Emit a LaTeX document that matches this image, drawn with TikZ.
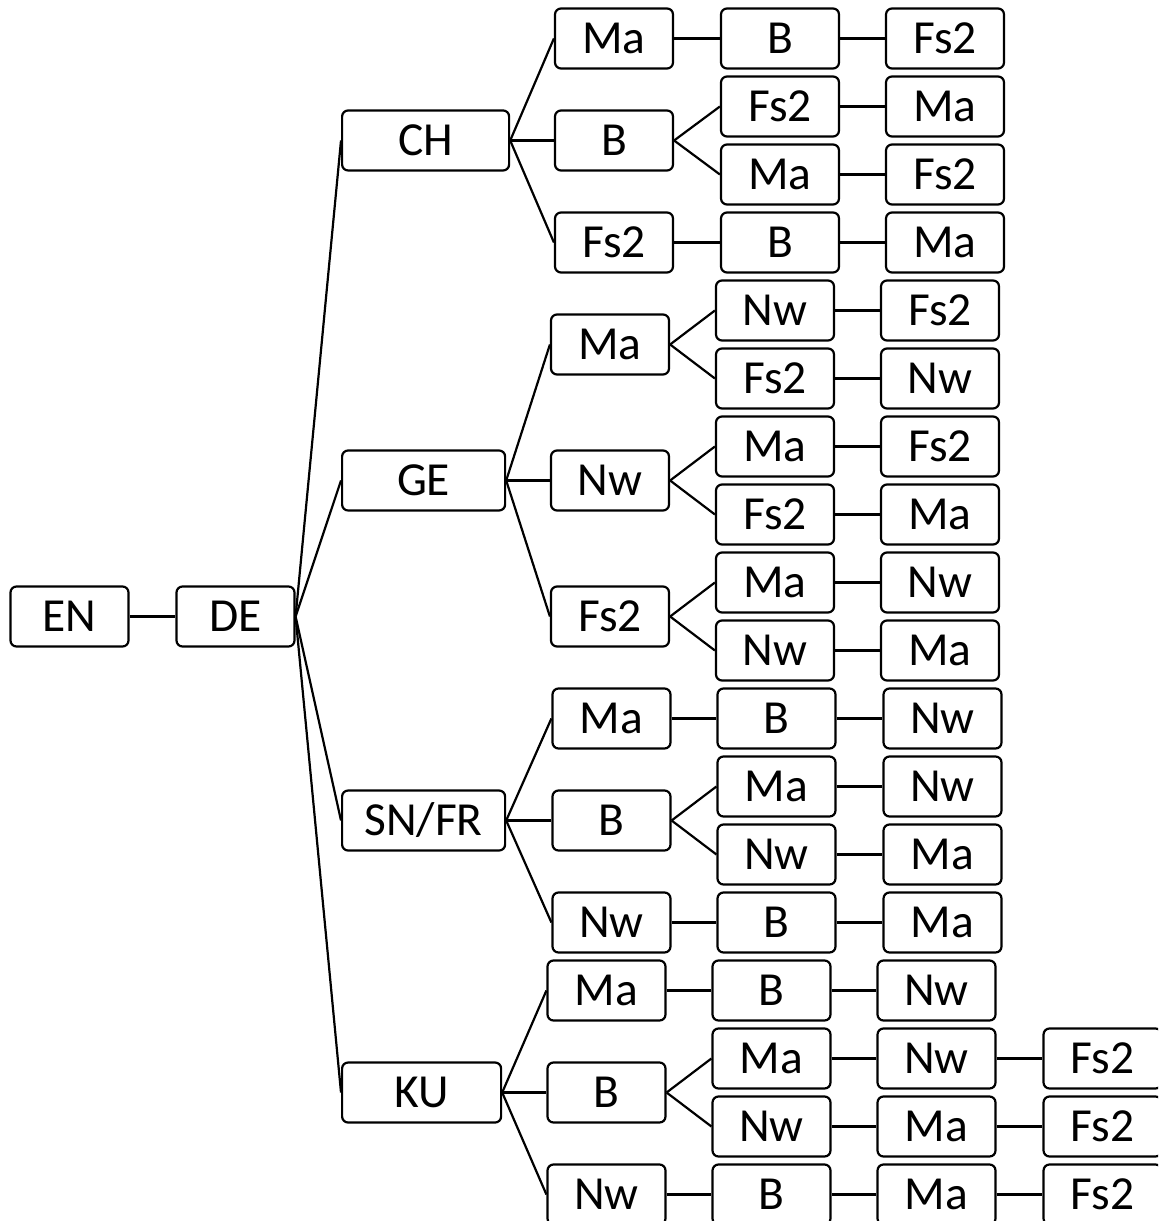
\documentclass[tikz,border=0pt]{standalone}
\usepackage{fontspec}
\setmainfont{Carlito}

\tikzset{
  box/.style={draw, line width=0.22mm, rounded corners=0.6mm, minimum width=11.8mm, minimum height=6mm, inner sep=0pt, font=\fontsize{13.5}{16}\selectfont},
  wide/.style={box, minimum width=16.3mm, anchor=west},
  link/.style={line width=0.22mm}
}

\begin{document}
\begin{tikzpicture}[x=0.1mm, y=-0.1mm]
\clip (0,0) rectangle (1158,1221);

% the root and its one child
\node[box] (en) at (69.5,616.5) {EN};
\node[box] (de) at (235.5,616.5) {DE};

% the second level
\node[wide, minimum width=16.7mm] (ch) at (341,140.5) {CH};
\node[wide] (ge) at (341,480.5) {GE};
\node[wide] (sn) at (341,820.5) {SN/FR};
\node[wide, minimum width=15.9mm] (ku) at (341,1092.5) {KU};

% the CH branch
\node[box] (ch-ma) at (614,38.5) {Ma};
\node[box] (ch-ma-b) at (780,38.5) {B};
\node[box] (ch-ma-b-fs) at (945,38.5) {Fs2};
\node[box] (ch-b) at (614,140.5) {B};
\node[box] (ch-b-fs) at (780,106.5) {Fs2};
\node[box] (ch-b-fs-ma) at (945,106.5) {Ma};
\node[box] (ch-b-ma) at (780,174.5) {Ma};
\node[box] (ch-b-ma-fs) at (945,174.5) {Fs2};
\node[box] (ch-fs) at (614,242.5) {Fs2};
\node[box] (ch-fs-b) at (780,242.5) {B};
\node[box] (ch-fs-b-ma) at (945,242.5) {Ma};

% the GE branch
\node[box] (ge-ma) at (610,344.5) {Ma};
\node[box] (ge-ma-nw) at (775,310.5) {Nw};
\node[box] (ge-ma-nw-fs) at (940,310.5) {Fs2};
\node[box] (ge-ma-fs) at (775,378.5) {Fs2};
\node[box] (ge-ma-fs-nw) at (940,378.5) {Nw};
\node[box] (ge-nw) at (610,480.5) {Nw};
\node[box] (ge-nw-ma) at (775,446.5) {Ma};
\node[box] (ge-nw-ma-fs) at (940,446.5) {Fs2};
\node[box] (ge-nw-fs) at (775,514.5) {Fs2};
\node[box] (ge-nw-fs-ma) at (940,514.5) {Ma};
\node[box] (ge-fs) at (610,616.5) {Fs2};
\node[box] (ge-fs-ma) at (775,582.5) {Ma};
\node[box] (ge-fs-ma-nw) at (940,582.5) {Nw};
\node[box] (ge-fs-nw) at (775,650.5) {Nw};
\node[box] (ge-fs-nw-ma) at (940,650.5) {Ma};

% the SN/FR branch
\node[box] (sn-ma) at (611.5,718.5) {Ma};
\node[box] (sn-ma-b) at (776.5,718.5) {B};
\node[box] (sn-ma-b-nw) at (942.5,718.5) {Nw};
\node[box] (sn-b) at (611.5,820.5) {B};
\node[box] (sn-b-ma) at (776.5,786.5) {Ma};
\node[box] (sn-b-ma-nw) at (942.5,786.5) {Nw};
\node[box] (sn-b-nw) at (776.5,854.5) {Nw};
\node[box] (sn-b-nw-ma) at (942.5,854.5) {Ma};
\node[box] (sn-nw) at (611.5,922.5) {Nw};
\node[box] (sn-nw-b) at (776.5,922.5) {B};
\node[box] (sn-nw-b-ma) at (942.5,922.5) {Ma};

% the KU branch
\node[box] (ku-ma) at (606.5,990.5) {Ma};
\node[box] (ku-ma-b) at (771.5,990.5) {B};
\node[box] (ku-ma-b-nw) at (936.5,990.5) {Nw};
\node[box] (ku-b) at (606.5,1092.5) {B};
\node[box] (ku-b-ma) at (771.5,1058.5) {Ma};
\node[box] (ku-b-ma-nw) at (936.5,1058.5) {Nw};
\node[box] (ku-b-ma-nw-fs) at (1102.5,1058.5) {Fs2};
\node[box] (ku-b-nw) at (771.5,1126.5) {Nw};
\node[box] (ku-b-nw-ma) at (936.5,1126.5) {Ma};
\node[box] (ku-b-nw-ma-fs) at (1102.5,1126.5) {Fs2};
\node[box] (ku-nw) at (606.5,1194.5) {Nw};
\node[box] (ku-nw-b) at (771.5,1194.5) {B};
\node[box] (ku-nw-b-ma) at (936.5,1194.5) {Ma};
\node[box] (ku-nw-b-ma-fs) at (1102.5,1194.5) {Fs2};

% the lines from the root
\draw[link] (en.east) -- (de.west);
\draw[link] (de.east) -- (ch.west);
\draw[link] (de.east) -- (ge.west);
\draw[link] (de.east) -- (sn.west);
\draw[link] (de.east) -- (ku.west);

% lines in the CH branch
\draw[link] (ch.east) -- (ch-ma.west);
\draw[link] (ch.east) -- (ch-b.west);
\draw[link] (ch.east) -- (ch-fs.west);
\draw[link] (ch-ma.east) -- (ch-ma-b.west);
\draw[link] (ch-ma-b.east) -- (ch-ma-b-fs.west);
\draw[link] (ch-b.east) -- (ch-b-fs.west);
\draw[link] (ch-b.east) -- (ch-b-ma.west);
\draw[link] (ch-b-fs.east) -- (ch-b-fs-ma.west);
\draw[link] (ch-b-ma.east) -- (ch-b-ma-fs.west);
\draw[link] (ch-fs.east) -- (ch-fs-b.west);
\draw[link] (ch-fs-b.east) -- (ch-fs-b-ma.west);

% lines in the GE branch
\draw[link] (ge.east) -- (ge-ma.west);
\draw[link] (ge.east) -- (ge-nw.west);
\draw[link] (ge.east) -- (ge-fs.west);
\draw[link] (ge-ma.east) -- (ge-ma-nw.west);
\draw[link] (ge-ma.east) -- (ge-ma-fs.west);
\draw[link] (ge-ma-nw.east) -- (ge-ma-nw-fs.west);
\draw[link] (ge-ma-fs.east) -- (ge-ma-fs-nw.west);
\draw[link] (ge-nw.east) -- (ge-nw-ma.west);
\draw[link] (ge-nw.east) -- (ge-nw-fs.west);
\draw[link] (ge-nw-ma.east) -- (ge-nw-ma-fs.west);
\draw[link] (ge-nw-fs.east) -- (ge-nw-fs-ma.west);
\draw[link] (ge-fs.east) -- (ge-fs-ma.west);
\draw[link] (ge-fs.east) -- (ge-fs-nw.west);
\draw[link] (ge-fs-ma.east) -- (ge-fs-ma-nw.west);
\draw[link] (ge-fs-nw.east) -- (ge-fs-nw-ma.west);

% lines in the SN/FR branch
\draw[link] (sn.east) -- (sn-ma.west);
\draw[link] (sn.east) -- (sn-b.west);
\draw[link] (sn.east) -- (sn-nw.west);
\draw[link] (sn-ma.east) -- (sn-ma-b.west);
\draw[link] (sn-ma-b.east) -- (sn-ma-b-nw.west);
\draw[link] (sn-b.east) -- (sn-b-ma.west);
\draw[link] (sn-b.east) -- (sn-b-nw.west);
\draw[link] (sn-b-ma.east) -- (sn-b-ma-nw.west);
\draw[link] (sn-b-nw.east) -- (sn-b-nw-ma.west);
\draw[link] (sn-nw.east) -- (sn-nw-b.west);
\draw[link] (sn-nw-b.east) -- (sn-nw-b-ma.west);

% lines in the KU branch
\draw[link] (ku.east) -- (ku-ma.west);
\draw[link] (ku.east) -- (ku-b.west);
\draw[link] (ku.east) -- (ku-nw.west);
\draw[link] (ku-ma.east) -- (ku-ma-b.west);
\draw[link] (ku-ma-b.east) -- (ku-ma-b-nw.west);
\draw[link] (ku-b.east) -- (ku-b-ma.west);
\draw[link] (ku-b.east) -- (ku-b-nw.west);
\draw[link] (ku-b-ma.east) -- (ku-b-ma-nw.west);
\draw[link] (ku-b-ma-nw.east) -- (ku-b-ma-nw-fs.west);
\draw[link] (ku-b-nw.east) -- (ku-b-nw-ma.west);
\draw[link] (ku-b-nw-ma.east) -- (ku-b-nw-ma-fs.west);
\draw[link] (ku-nw.east) -- (ku-nw-b.west);
\draw[link] (ku-nw-b.east) -- (ku-nw-b-ma.west);
\draw[link] (ku-nw-b-ma.east) -- (ku-nw-b-ma-fs.west);
\end{tikzpicture}
\end{document}
